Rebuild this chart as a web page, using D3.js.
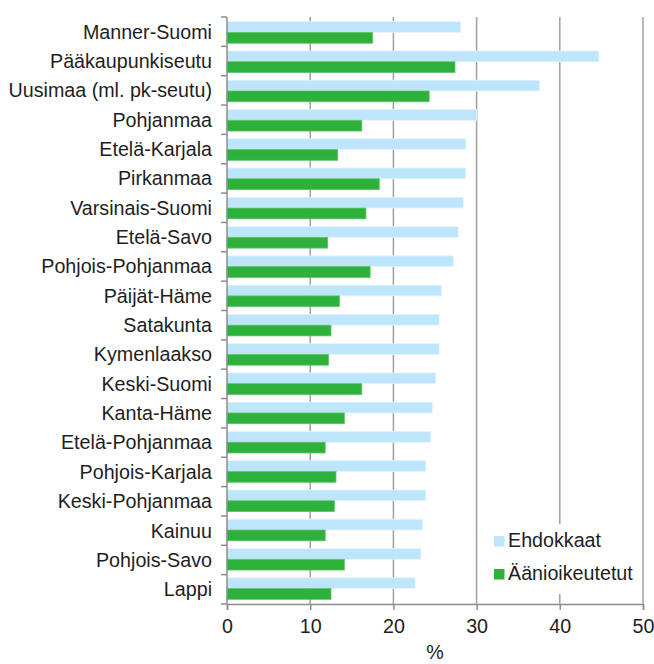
<!DOCTYPE html>
<html><head><meta charset="utf-8">
<script src="https://cdn.jsdelivr.net/npm/d3@7"></script>
<style>
html,body{margin:0;padding:0;background:#fff;}
text{font-family:"Liberation Sans",Arial,sans-serif;fill:#1e1e1e;}
</style></head>
<body><svg id="chart" width="654" height="664"></svg>
<script>
const categories = ["Manner-Suomi","Pääkaupunkiseutu","Uusimaa (ml. pk-seutu)","Pohjanmaa","Etelä-Karjala","Pirkanmaa","Varsinais-Suomi","Etelä-Savo","Pohjois-Pohjanmaa","Päijät-Häme","Satakunta","Kymenlaakso","Keski-Suomi","Kanta-Häme","Etelä-Pohjanmaa","Pohjois-Karjala","Keski-Pohjanmaa","Kainuu","Pohjois-Savo","Lappi"];
const ehdokkaat = [28.1,44.7,37.6,30.0,28.7,28.7,28.4,27.8,27.2,25.8,25.5,25.5,25.1,24.7,24.5,23.9,23.9,23.5,23.3,22.6];
const aanioikeutetut = [17.5,27.4,24.3,16.2,13.3,18.3,16.7,12.1,17.2,13.5,12.5,12.2,16.2,14.1,11.8,13.1,12.9,11.8,14.1,12.5];
const seriesNames = ["Ehdokkaat","Äänioikeutetut"];
const seriesColors = ["#bde5fb","#2db13a"];
const xTicks = [0,10,20,30,40,50];
const axisTitle = "%";

(function(){
const svg = d3.select("#chart");
const pL = 227, pR = 643, pT = 17, pB = 604;
const fs = 19.7;

const x = d3.scaleLinear().domain([0,50]).range([pL,pR]);
const y = d3.scaleBand().domain(categories).range([pT,pB]).paddingInner(0.264).paddingOuter(0.16);
const ySub = d3.scaleBand().domain(seriesNames).range([0,y.bandwidth()]);

// gridlines
svg.append("g").selectAll("line").data(xTicks.slice(1)).join("line")
  .attr("x1",d=>x(d)).attr("x2",d=>x(d)).attr("y1",pT).attr("y2",pB)
  .attr("stroke","#a0a0a0").attr("stroke-width",1.5);

// bars
const rows = categories.map((c,i)=>({c, vals:[ehdokkaat[i], aanioikeutetut[i]]}));
const g = svg.append("g");
rows.forEach(r=>{
  r.vals.forEach((v,j)=>{
    g.append("rect")
      .attr("x",x(0)).attr("y",y(r.c)+ySub(seriesNames[j]))
      .attr("width",x(v)-x(0)).attr("height",ySub.bandwidth())
      .attr("fill",seriesColors[j])
      .attr("stroke", j===0 ? "#e4f4fd" : "#5cc466").attr("stroke-width",0.8);
  });
});

// y axis line + ticks at category boundaries
svg.append("line").attr("x1",pL).attr("x2",pL).attr("y1",pT).attr("y2",pB)
  .attr("stroke","#8c8c8c").attr("stroke-width",1.5);
const bounds = d3.range(categories.length+1).map(i=>pT + i*(pB-pT)/categories.length);
svg.append("g").selectAll("line").data(bounds).join("line")
  .attr("x1",pL-6).attr("x2",pL).attr("y1",d=>d).attr("y2",d=>d)
  .attr("stroke","#8c8c8c").attr("stroke-width",1.5);

// category labels
svg.append("g").selectAll("text").data(categories).join("text")
  .attr("x",212).attr("y",(d,i)=>pT + (i+0.5)*(pB-pT)/categories.length)
  .attr("dy","0.35em").attr("text-anchor","end").attr("font-size",fs)
  .text(d=>d);

// x axis
const xAxis = d3.axisBottom(x).tickValues(xTicks).tickSize(6).tickPadding(9).tickFormat(d3.format("d"));
const ax = svg.append("g").attr("transform",`translate(0,${pB})`).call(xAxis);
ax.select(".domain").attr("stroke","#8c8c8c").attr("stroke-width",1.5);
ax.selectAll(".tick line").attr("stroke","#8c8c8c").attr("stroke-width",1.5);
ax.selectAll(".tick text").attr("font-size",fs).attr("font-family","Liberation Sans, Arial, sans-serif").attr("fill","#1e1e1e");

svg.append("text").attr("x",(pL+pR)/2).attr("y",659).attr("text-anchor","middle").attr("font-size",fs).text(axisTitle);

// legend
const lg = svg.append("g");
lg.append("rect").attr("x",486).attr("y",524).attr("width",140).attr("height",70).attr("fill","#fff");
seriesNames.forEach((s,i)=>{
  const yy = 536 + i*33;
  lg.append("rect").attr("x",494).attr("y",yy).attr("width",10.5).attr("height",10.5).attr("fill",seriesColors[i]);
  lg.append("text").attr("x",508).attr("y",yy+10.7).attr("font-size",fs).text(s);
});
})();
</script></body></html>
